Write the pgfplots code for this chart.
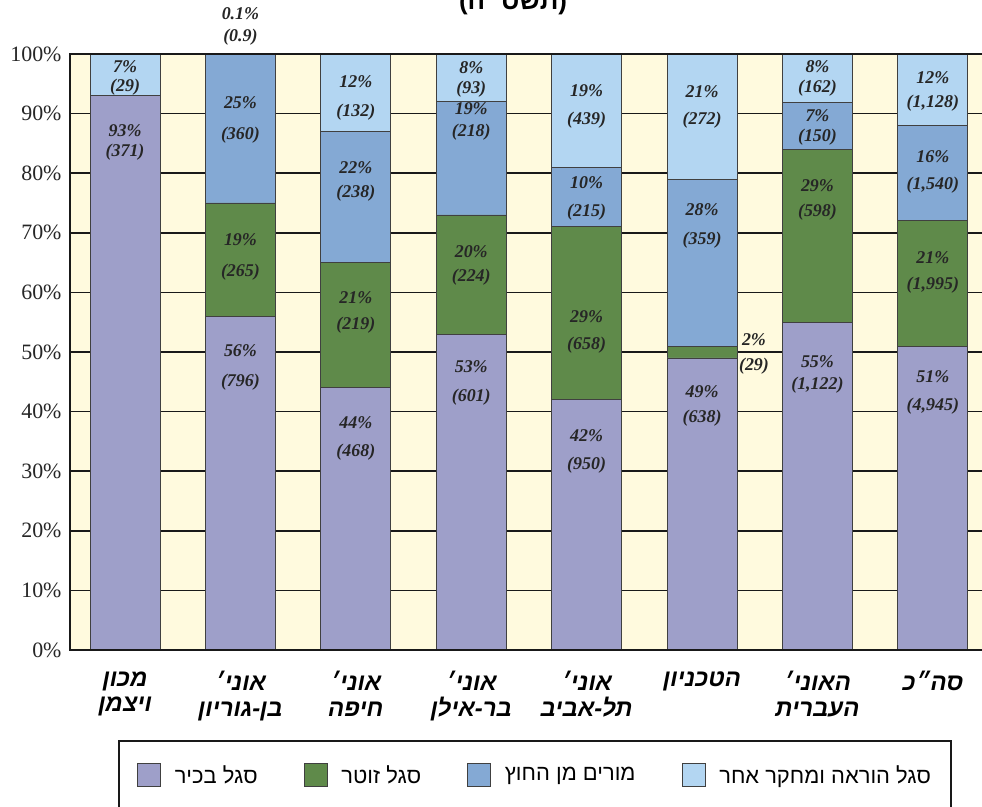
\documentclass[border=0pt]{standalone}
\usepackage{fontspec}
\setmainfont{Liberation Serif}
\newfontfamily\heb[Script=Hebrew]{Liberation Sans}
\usepackage{pgfplots}
\pgfplotsset{compat=1.18}
\TeXXeTstate=1

\definecolor{senior}{HTML}{9E9FC9}
\definecolor{junior}{HTML}{5F8A4A}
\definecolor{external}{HTML}{84A9D4}
\definecolor{other}{HTML}{B3D6F2}
\definecolor{bgyellow}{HTML}{FFFADE}

\newcommand{\R}[1]{\beginR#1\endR}
% value label: x, y (axis units), text
\newcommand{\lbl}[3]{\node[lab] at (axis cs:#1,#2) {#3};}

\tikzset{lab/.style={font=\bfseries\itshape\fontsize{18}{20}\selectfont, text=black!85, inner sep=0pt}}
\pgfplotsset{
  frame/.style={at={(70bp,157bp)}, anchor=south west,
    width=912bp, height=596bp, scale only axis,
    xmin=-0.477, xmax=7.426, ymin=0, ymax=100, clip=false},
  barleg/.style={legend image code/.code={%
    \draw[##1, line width=0.8bp] (0bp,-11.5bp) rectangle (23bp,11.5bp);}},
}

\begin{document}
\begin{tikzpicture}
\path[use as bounding box, fill=white] (0bp,0bp) rectangle (982bp,807bp);
\node[font=\heb\bfseries\fontsize{26}{28}\selectfont, anchor=base] at (513bp,797bp) {\R{(תשס״ה)}};
\begin{axis}[
  frame,
  ybar stacked, bar width=0.607,
  enlarge y limits=false,
  axis background/.style={fill=bgyellow},
  axis line style={draw=none},
  major tick length=0pt,
  ymajorgrids, grid style={black!90, line width=1.5bp},
  ytick={0,10,...,100},
  yticklabels={0\%,10\%,20\%,30\%,40\%,50\%,60\%,70\%,80\%,90\%,100\%},
  yticklabel style={font=\fontsize{22}{24}\selectfont, text=black!85, xshift=-5bp},
  xtick={0,...,7},
  xticklabels={
    {\R{מכון}\\\R{ויצמן}},
    {\R{אוני׳}\\\R{בן-גוריון}},
    {\R{אוני׳}\\\R{חיפה}},
    {\R{אוני׳}\\\R{בר-אילן}},
    {\R{אוני׳}\\\R{תל-אביב}},
    {\R{הטכניון}},
    {\R{האוני׳}\\\R{העברית}},
    {\R{סה״כ}}},
  xticklabel style={font=\heb\bfseries\itshape\fontsize{24}{26}\selectfont, align=center, anchor=north, yshift=-18bp},
  legend style={at={(axis description cs:0.0526,-0.151)}, anchor=north west,
    legend columns=4, draw=black!90, line width=2bp, fill=white,
    inner xsep=18bp, inner ysep=22bp,
    font=\heb\fontsize{22}{24}\selectfont,
    /tikz/every odd column/.append style={column sep=12bp},
    /tikz/every even column/.append style={column sep=44bp}},
  legend cell align=left,
]
\addplot[fill=senior, draw=black!75, line width=0.8bp, barleg]
  coordinates {(0,93) (1,56) (2,44) (3,53) (4,42) (5,49) (6,55) (7,51)};
\addplot[fill=junior, draw=black!75, line width=0.8bp, barleg]
  coordinates {(0,0) (1,19) (2,21) (3,20) (4,29) (5,2) (6,29) (7,21)};
\addplot[fill=external, draw=black!75, line width=0.8bp, barleg]
  coordinates {(0,0) (1,25) (2,22) (3,19) (4,10) (5,28) (6,7.8) (7,16)};
\addplot[fill=other, draw=black!75, line width=0.8bp, barleg]
  coordinates {(0,7) (1,0.1) (2,13) (3,8) (4,19) (5,21) (6,8.2) (7,12)};
\addlegendentry{\R{סגל בכיר}}
\addlegendentry{\R{סגל זוטר}}
\addlegendentry{\R{מורים מן החוץ}}
\addlegendentry{\R{סגל הוראה ומחקר אחר}}
\end{axis}

% overlay axis for frame and value labels, drawn above the bars
\begin{axis}[frame, hide axis]
\draw[black!90, line width=2.5bp] (rel axis cs:1,1) -- (rel axis cs:0,1) -- (rel axis cs:0,0) -- (rel axis cs:1,0);
% Weizmann
\lbl{0}{97.8}{7\%}    \lbl{0}{94.5}{(29)}
\lbl{0}{87.2}{93\%}   \lbl{0}{83.6}{(371)}
% Ben-Gurion
\lbl{1}{106.7}{0.1\%} \lbl{1}{102.9}{(0.9)}
\lbl{1}{91.8}{25\%}   \lbl{1}{86.4}{(360)}
\lbl{1}{68.8}{19\%}   \lbl{1}{63.4}{(265)}
\lbl{1}{50.2}{56\%}   \lbl{1}{45.0}{(796)}
% Haifa
\lbl{2}{95.3}{12\%}   \lbl{2}{90.3}{(132)}
\lbl{2}{81.0}{22\%}   \lbl{2}{76.7}{(238)}
\lbl{2}{59.1}{21\%}   \lbl{2}{54.5}{(219)}
\lbl{2}{38.1}{44\%}   \lbl{2}{33.2}{(468)}
% Bar-Ilan
\lbl{3}{97.7}{8\%}    \lbl{3}{94.1}{(93)}
\lbl{3}{90.8}{19\%}   \lbl{3}{86.9}{(218)}
\lbl{3}{66.8}{20\%}   \lbl{3}{62.6}{(224)}
\lbl{3}{47.5}{53\%}   \lbl{3}{42.4}{(601)}
% Tel Aviv
\lbl{4}{93.8}{19\%}   \lbl{4}{88.9}{(439)}
\lbl{4}{78.4}{10\%}   \lbl{4}{73.5}{(215)}
\lbl{4}{55.9}{29\%}   \lbl{4}{51.2}{(658)}
\lbl{4}{35.9}{42\%}   \lbl{4}{31.0}{(950)}
% Technion
\lbl{5}{93.6}{21\%}   \lbl{5}{88.9}{(272)}
\lbl{5}{73.8}{28\%}   \lbl{5}{68.8}{(359)}
\lbl{5.45}{52.0}{2\%} \lbl{5.45}{47.7}{(29)}
\lbl{5}{43.3}{49\%}   \lbl{5}{38.9}{(638)}
% Hebrew University
\lbl{6}{97.8}{8\%}    \lbl{6}{94.3}{(162)}
\lbl{6}{89.6}{7\%}    \lbl{6}{86.1}{(150)}
\lbl{6}{77.9}{29\%}   \lbl{6}{73.5}{(598)}
\lbl{6}{48.3}{55\%}   \lbl{6}{44.5}{(1,122)}
% Total
\lbl{7}{96.1}{12\%}   \lbl{7}{91.8}{(1,128)}
\lbl{7}{82.7}{16\%}   \lbl{7}{78.0}{(1,540)}
\lbl{7}{65.8}{21\%}   \lbl{7}{61.2}{(1,995)}
\lbl{7}{45.8}{51\%}   \lbl{7}{40.9}{(4,945)}
\end{axis}
\end{tikzpicture}
\end{document}
